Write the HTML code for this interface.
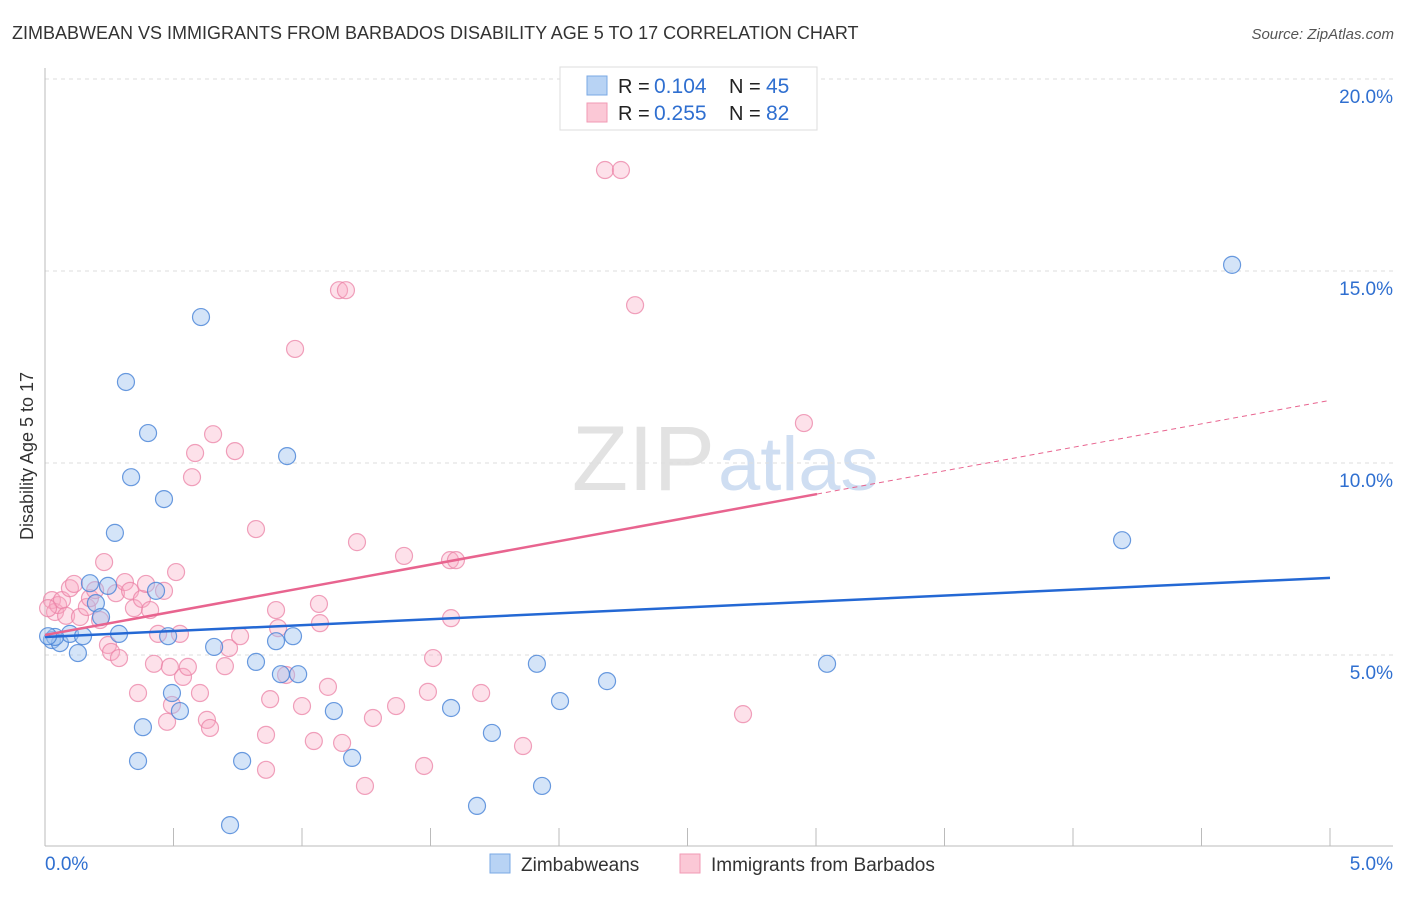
<!DOCTYPE html>
<html><head><meta charset="utf-8"><style>
body{margin:0;background:#fff;font-family:"Liberation Sans",sans-serif}
svg text{font-family:"Liberation Sans",sans-serif}
</style></head><body>
<svg id="chart" width="1406" height="892" xmlns="http://www.w3.org/2000/svg">
<text x="12" y="39" font-size="18" fill="#333">ZIMBABWEAN VS IMMIGRANTS FROM BARBADOS DISABILITY AGE 5 TO 17 CORRELATION CHART</text>
<text x="1394" y="39" font-size="15" fill="#555" text-anchor="end" font-style="italic">Source: ZipAtlas.com</text>
<text x="715" y="490" font-size="92" fill="#e2e2e2" text-anchor="end" font-family="Liberation Serif">ZIP</text>
<text x="718" y="490" font-size="76" fill="#cfdef2">atlas</text>
<g id="grid"></g>
<g id="axes"></g>
<g id="pts"></g>
<g id="trends"></g>
<text transform="translate(33,456) rotate(-90)" font-size="18" fill="#333" text-anchor="middle">Disability Age 5 to 17</text>
<g>
<rect x="560" y="67" width="257" height="63" fill="#fff" stroke="#ddd"/>
<rect x="587" y="76" width="20" height="19" fill="#b8d3f4" stroke="#7aa8e4"/>
<rect x="587" y="103" width="20" height="19" fill="#fbc8d6" stroke="#f29ab4"/>
<text x="618" y="93" font-size="20" fill="#222">R =</text>
<text x="654" y="93" font-size="21" fill="#2f6fd0">0.104</text>
<text x="729" y="93" font-size="20" fill="#222">N =</text>
<text x="766" y="93" font-size="21" fill="#2f6fd0">45</text>
<text x="618" y="120" font-size="20" fill="#222">R =</text>
<text x="654" y="120" font-size="21" fill="#2f6fd0">0.255</text>
<text x="729" y="120" font-size="20" fill="#222">N =</text>
<text x="766" y="120" font-size="21" fill="#2f6fd0">82</text>
</g>
<g>
<rect x="490" y="854" width="20" height="19" fill="#b8d3f4" stroke="#7aa8e4"/>
<text x="521" y="871" font-size="19" fill="#333">Zimbabweans</text>
<rect x="680" y="854" width="20" height="19" fill="#fbc8d6" stroke="#f29ab4"/>
<text x="711" y="871" font-size="19" fill="#333">Immigrants from Barbados</text>
</g>
</svg>
<script>
const blueX=[0.027,0.058,0.097,0.039,0.128,0.148,0.175,0.198,0.218,0.245,0.288,0.272,0.315,0.335,0.362,0.381,0.401,0.432,0.463,0.479,0.494,0.525,0.607,0.658,0.720,0.767,0.821,0.899,0.918,0.942,0.965,0.985,1.124,1.195,1.580,1.681,1.739,1.914,1.934,2.004,2.187,3.043,4.191,4.619,0.012];
const blueY=[5.39,5.31,5.55,5.47,5.05,5.49,6.87,6.35,5.99,6.80,5.55,8.18,12.11,9.63,2.24,3.12,10.78,6.67,9.06,5.49,4.01,3.54,13.80,5.21,0.57,2.24,4.82,5.36,4.50,10.18,5.49,4.50,3.54,2.32,3.62,1.07,2.97,4.77,1.59,3.80,4.32,4.77,7.99,15.16,5.49];
const pinkX=[0.027,0.039,0.051,0.066,0.082,0.097,0.113,0.136,0.163,0.175,0.195,0.214,0.230,0.245,0.257,0.276,0.288,0.311,0.331,0.346,0.362,0.377,0.393,0.409,0.424,0.440,0.463,0.475,0.486,0.494,0.510,0.525,0.537,0.556,0.572,0.584,0.603,0.630,0.642,0.654,0.700,0.716,0.739,0.759,0.821,0.860,0.860,0.876,0.899,0.907,0.938,0.973,1.000,1.046,1.066,1.070,1.101,1.144,1.171,1.156,1.214,1.245,1.276,1.366,1.397,1.475,1.490,1.510,1.576,1.580,1.599,1.697,1.860,2.179,2.241,2.296,2.716,2.953,0.012];
const pinkY=[6.43,6.12,6.30,6.43,6.02,6.74,6.85,5.99,6.25,6.48,6.69,5.91,7.42,5.26,5.08,6.61,4.92,6.90,6.67,6.22,4.01,6.46,6.85,6.17,4.77,5.55,6.67,3.26,4.69,3.70,7.16,5.55,4.43,4.69,9.63,10.26,4.01,3.31,3.10,10.75,4.71,5.18,10.31,5.49,8.28,2.92,2.01,3.85,6.17,5.70,4.48,12.97,3.67,2.76,6.33,5.83,4.17,14.50,14.50,2.71,7.94,1.59,3.36,3.67,7.58,2.11,4.04,4.92,7.47,5.96,7.47,4.01,2.63,17.63,17.63,14.11,3.46,11.04,6.22];
const blueTrend=[5.47,7.01];
const pinkTrend=[5.52,11.63];
const pinkSolidEnd=3.004;
const yTicks=[5,10,15,20];
const xTickLabels=["0.0%","5.0%"];
const NS="http://www.w3.org/2000/svg";
const sx=v=>45+v/5*1285, sy=v=>847-v/5*192;
function mk(tag,attrs,parent){const e=document.createElementNS(NS,tag);for(const k in attrs)e.setAttribute(k,attrs[k]);parent.appendChild(e);return e;}
const grid=document.getElementById('grid'),axes=document.getElementById('axes'),pts=document.getElementById('pts'),tr=document.getElementById('trends');
yTicks.forEach(t=>{
 const l=mk('line',{x1:45,x2:1393,y1:sy(t),y2:sy(t),stroke:'#ddd','stroke-dasharray':'4,4'},grid);
 
 
 const tx=mk('text',{x:1393,y:sy(t)+24,'font-size':19,fill:'#2f6fd0','text-anchor':'end'},axes);
 tx.textContent=t.toFixed(1)+'%';
 
 
});
const ax=mk('line',{x1:45,x2:45,y1:68,y2:846,stroke:'#bbb'},axes);


const bx=mk('line',{x1:45,x2:1393,y1:846,y2:846,stroke:'#bbb'},axes);


for(let i=1;i<=10;i++){const t=mk('line',{x1:45+i*128.5,x2:45+i*128.5,y1:828,y2:846,stroke:'#bbb'},axes);
 
 }
[[0,'start',45],[5,'end',1393]].forEach((d,i)=>{const t=mk('text',{x:d[2],y:870,'font-size':19,fill:'#2f6fd0','text-anchor':d[1]},axes);t.textContent=xTickLabels[i];
 
 });
pinkX.forEach((x,i)=>{const c=mk('circle',{cx:sx(x),cy:sy(pinkY[i]),r:8.5,fill:'rgba(248,170,195,0.35)',stroke:'rgba(235,130,165,0.75)','stroke-width':1.2},pts);
 
 });
blueX.forEach((x,i)=>{const c=mk('circle',{cx:sx(x),cy:sy(blueY[i]),r:8.5,fill:'rgba(160,195,240,0.45)',stroke:'rgba(70,130,215,0.8)','stroke-width':1.2},pts);
 
 });
const pAt=x=>pinkTrend[0]+(pinkTrend[1]-pinkTrend[0])*x/5;
const b=mk('line',{x1:sx(0),y1:sy(blueTrend[0]),x2:sx(5),y2:sy(blueTrend[1]),stroke:'#2468d4','stroke-width':2.5},tr);


const p=mk('line',{x1:sx(0),y1:sy(pinkTrend[0]),x2:sx(pinkSolidEnd),y2:sy(pAt(pinkSolidEnd)),stroke:'#e8648f','stroke-width':2.5},tr);


const pd=mk('line',{x1:sx(pinkSolidEnd),y1:sy(pAt(pinkSolidEnd)),x2:sx(5),y2:sy(pinkTrend[1]),stroke:'#e8648f','stroke-width':1,'stroke-dasharray':'5,4'},tr);


</script>
</body></html>
